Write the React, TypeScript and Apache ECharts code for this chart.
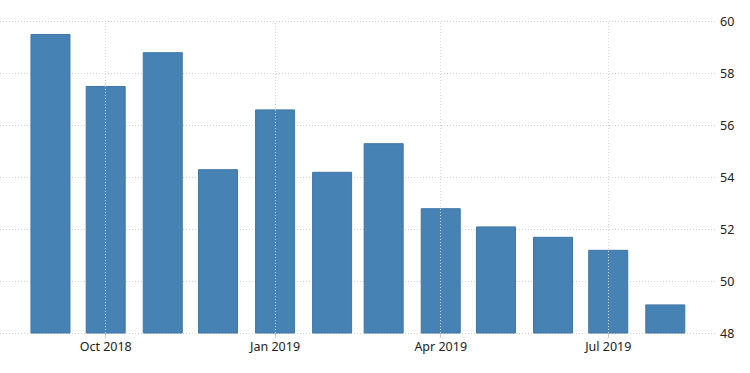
import React, { useEffect, useRef } from "react";
import * as echarts from "echarts";

const months: string[] = ["2018-09-01", "2018-10-01", "2018-11-01", "2018-12-01", "2019-01-01", "2019-02-01", "2019-03-01", "2019-04-01", "2019-05-01", "2019-06-01", "2019-07-01", "2019-08-01"];
const values: number[] = [59.5, 57.5, 58.8, 54.3, 56.6, 54.2, 55.3, 52.8, 52.1, 51.7, 51.2, 49.1];
const tickDates: string[] = ["2018-10-01", "2019-01-01", "2019-04-01", "2019-07-01"];
const monthNames: string[] = ["Jan", "Feb", "Mar", "Apr", "May", "Jun", "Jul", "Aug", "Sep", "Oct", "Nov", "Dec"];
const yTicks = { min: 48, max: 60, interval: 2 };

function toTs(s: string): number {
  const [y, m, d] = s.split("-").map(Number);
  return new Date(y, m - 1, d).getTime();
}

export default function App() {
  const ref = useRef<HTMLDivElement>(null);
  useEffect(() => {
    if (!ref.current) return;
    const chart = echarts.init(ref.current, undefined, { renderer: "svg" });
    const tickTs = tickDates.map(toTs);
    const xMin = new Date(2018, 7, 4, 14).getTime();
    const xMax = new Date(2019, 7, 29, 2).getTime();
    chart.setOption({
      animation: false,
      backgroundColor: "#ffffff",
      grid: { left: 0, right: 33, top: 21, bottom: 40, containLabel: false },
      xAxis: {
        type: "value",
        min: xMin,
        max: xMax,
        axisLine: { show: false },
        axisTick: {
          show: true,
          customValues: tickTs,
          length: 5,
          lineStyle: { color: "#cccccc" },
        },
        splitLine: { show: false },
        axisLabel: {
          customValues: tickTs,
          color: "#222222",
          fontFamily: "Noto Sans",
          fontSize: 12.5,
          margin: 7,
          formatter: (v: number) => {
            const d = new Date(v);
            return monthNames[d.getMonth()] + " " + d.getFullYear();
          },
        },
      },
      yAxis: {
        type: "value",
        position: "right",
        min: yTicks.min,
        max: yTicks.max,
        interval: yTicks.interval,
        axisLine: { show: false },
        axisTick: { show: false },
        splitLine: { lineStyle: { color: "#cfcfcf", type: [1, 2], width: 1 } },
        axisLabel: {
          color: "#222222",
          fontFamily: "Noto Sans",
          fontSize: 12.5,
          margin: 3,
        },
      },
      series: [
        {
          type: "bar",
          data: months.map((m, i) => [toTs(m), values[i]]),
          barWidth: 40,
          itemStyle: { color: "#4682b4", borderColor: "#3f76a5", borderWidth: 1 },
          markLine: {
            silent: true,
            symbol: "none",
            label: { show: false },
            lineStyle: { color: "#d5d5d5", type: [1, 2], width: 1 },
            data: tickTs.map((t) => ({ xAxis: t })),
          },
        },
      ],
    });
    return () => chart.dispose();
  }, []);
  return (
    <div
      ref={ref}
      style={{ position: "fixed", left: 0, top: 0, width: 750, height: 373 }}
    />
  );
}
